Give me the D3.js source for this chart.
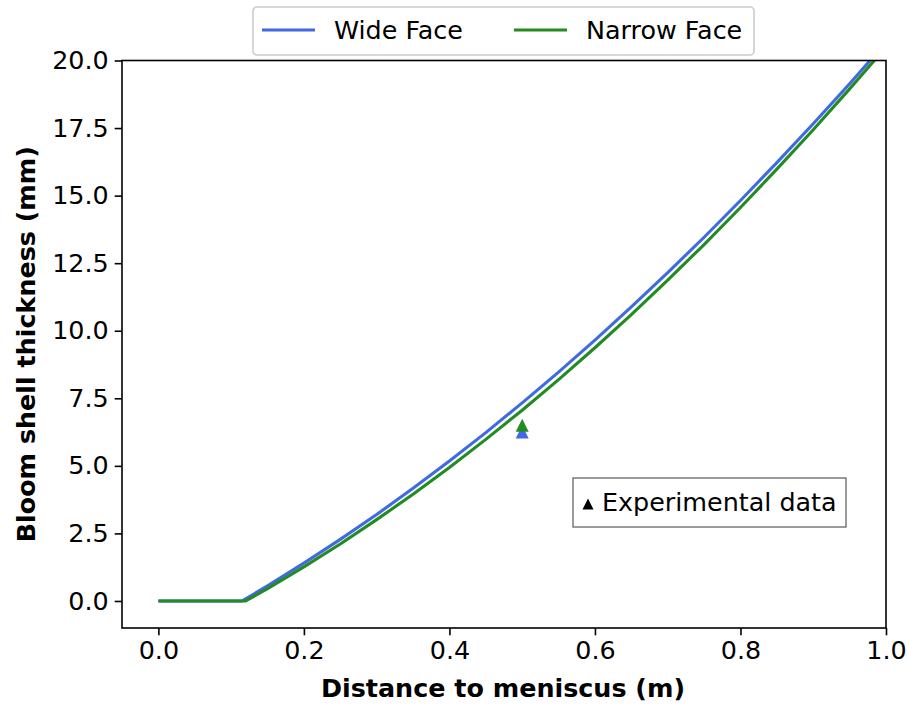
<!DOCTYPE html>
<html>
<head>
    <title>Bloom shell thickness</title>
    <script src="https://cdn.jsdelivr.net/npm/d3@7/dist/d3.min.js"></script>
    <style>
        body { margin: 0; background: white; }
        text { font-family: "DejaVu Sans", sans-serif; fill: #000; }
    </style>
</head>
<body>
    <svg width="909" height="708"></svg>
    <script>
        // distance to meniscus (m)
        const distance = [0, 0.05, 0.10, 0.115, 0.12, 0.15, 0.20, 0.25, 0.30, 0.35, 0.40, 0.45,
                          0.50, 0.55, 0.60, 0.65, 0.70, 0.75, 0.80, 0.85, 0.90, 0.95, 1.00];
        // shell thickness (mm)
        const wideFace = [0, 0, 0, 0, 0.08, 0.56, 1.40, 2.28, 3.20, 4.17, 5.18, 6.23,
                          7.33, 8.47, 9.65, 10.88, 12.15, 13.46, 14.82, 16.22, 17.66, 19.14, 20.67];
        const narrowFace = [0, 0, 0, 0, 0, 0.46, 1.26, 2.11, 3.01, 3.95, 4.94, 5.98,
                            7.06, 8.19, 9.37, 10.60, 11.87, 13.19, 14.56, 15.98, 17.44, 18.95, 20.50];
        const seriesNames = ['Wide Face', 'Narrow Face'];
        const seriesColors = ['royalblue', 'forestgreen'];
        // experimental points
        const expDistance = [0.5, 0.5];
        const expThickness = [6.25, 6.5];
        const xTicks = [0.0, 0.2, 0.4, 0.6, 0.8, 1.0];
        const yTicks = [0.0, 2.5, 5.0, 7.5, 10.0, 12.5, 15.0, 17.5, 20.0];

        const mLeft = 122, mRight = 886, mTop = 60.5, mBottom = 628;
        const fs = '25.4px';

        const svg = d3.select('svg');

        const x = d3.scaleLinear().domain([-0.05, 1.0]).range([mLeft, mRight]);
        const y = d3.scaleLinear().domain([-1, 20]).range([mBottom, mTop]);

        svg.append('clipPath').attr('id', 'plotclip')
            .append('rect')
                .attr('x', mLeft).attr('y', mTop)
                .attr('width', mRight - mLeft).attr('height', mBottom - mTop);

        const plot = svg.append('g').attr('clip-path', 'url(#plotclip)');

        const line = d3.line()
            .x(d => x(d[0]))
            .y(d => y(d[1]));

        [wideFace, narrowFace].forEach((vals, i) => {
            plot.append('path')
                .datum(distance.map((d, j) => [d, vals[j]]))
                .attr('d', line)
                .attr('fill', 'none')
                .attr('stroke', seriesColors[i])
                .attr('stroke-width', 3.1)
                .attr('stroke-linejoin', 'round');
        });

        // experimental triangles
        expDistance.forEach((d, i) => {
            plot.append('path')
                .attr('d', 'M0,-6.5L6.5,6.5L-6.5,6.5Z')
                .attr('transform', `translate(${x(d)},${y(expThickness[i])})`)
                .attr('fill', seriesColors[i]);
        });

        // axes
        const xAxis = svg.append('g')
            .attr('transform', `translate(0,${mBottom})`)
            .call(d3.axisBottom(x).tickValues(xTicks).tickFormat(d3.format('.1f'))
                .tickSizeInner(7.3).tickSizeOuter(0).tickPadding(6));
        const yAxis = svg.append('g')
            .attr('transform', `translate(${mLeft},0)`)
            .call(d3.axisLeft(y).tickValues(yTicks).tickFormat(d3.format('.1f'))
                .tickSizeInner(7.3).tickSizeOuter(0).tickPadding(6));

        [xAxis, yAxis].forEach(a => {
            a.select('.domain').remove();
            a.selectAll('.tick line').attr('stroke', '#000').attr('stroke-width', 1.6);
            a.selectAll('.tick text').style('font-size', fs).attr('fill', '#000');
        });

        // frame
        svg.append('rect')
            .attr('x', mLeft).attr('y', mTop)
            .attr('width', mRight - mLeft).attr('height', mBottom - mTop)
            .attr('fill', 'none').attr('stroke', '#000').attr('stroke-width', 1.6);

        // axis labels
        svg.append('text')
            .attr('x', (mLeft + mRight) / 2 - 1).attr('y', 697)
            .attr('text-anchor', 'middle')
            .style('font-size', fs).style('font-weight', 'bold')
            .text('Distance to meniscus (m)');
        svg.append('text')
            .attr('transform', `translate(35,${(mTop + mBottom) / 2}) rotate(-90)`)
            .attr('text-anchor', 'middle')
            .style('font-size', fs).style('font-weight', 'bold')
            .text('Bloom shell thickness (mm)');

        // top legend
        const legend = svg.append('g');
        legend.append('rect')
            .attr('x', 253).attr('y', 7).attr('width', 501).attr('height', 48)
            .attr('rx', 4).attr('fill', 'white').attr('stroke', '#cccccc').attr('stroke-width', 1.6);
        const legendX = [262, 514];
        seriesNames.forEach((name, i) => {
            legend.append('line')
                .attr('x1', legendX[i]).attr('x2', legendX[i] + 53)
                .attr('y1', 30).attr('y2', 30)
                .attr('stroke', seriesColors[i]).attr('stroke-width', 3.1);
            legend.append('text')
                .attr('x', legendX[i] + 72).attr('y', 39)
                .style('font-size', fs)
                .text(name);
        });

        // experimental data note
        svg.append('rect')
            .attr('x', 573).attr('y', 478).attr('width', 273).attr('height', 49)
            .attr('fill', 'white').attr('stroke', '#666').attr('stroke-width', 1.3);
        svg.append('path')
            .attr('d', 'M0,-5.5L5.5,5.5L-5.5,5.5Z')
            .attr('transform', 'translate(588,504)')
            .attr('fill', '#000');
        svg.append('text')
            .attr('x', 602).attr('y', 511)
            .style('font-size', fs)
            .text('Experimental data');
    </script>
</body>
</html>
